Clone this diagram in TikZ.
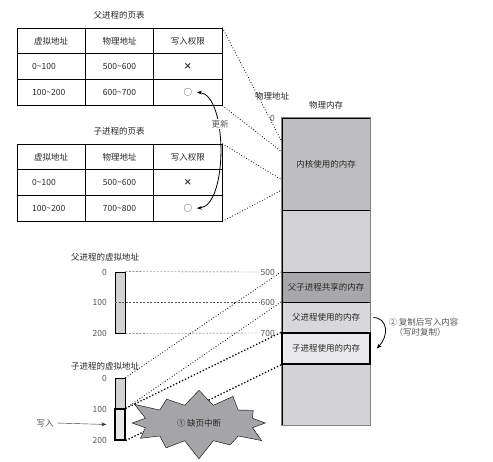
\documentclass[tikz,border=0pt]{standalone}
\usepackage{fontspec}
\setmainfont{Noto Sans CJK SC}
\usetikzlibrary{arrows.meta,shapes.symbols}
\definecolor{kernelgray}{RGB}{190,190,192}
\definecolor{freegray}{RGB}{211,211,213}
\definecolor{sharedgray}{RGB}{168,168,170}
\definecolor{usedgray}{RGB}{216,216,218}
\definecolor{copygray}{RGB}{233,233,235}
\definecolor{burstgray}{RGB}{165,165,167}
\definecolor{labelgray}{RGB}{85,85,85}
\begin{document}
\begin{tikzpicture}[x=1pt, y=-1pt, font=\fontsize{8.5}{10}\selectfont, text=black!85]
    \useasboundingbox (0,0) rectangle (493,461);
    % page tables
    \node (ptitle) at (119,15) {父进程的页表};
    \node (ctitle) at (119,131) {子进程的页表};
    \begin{scope}[every node/.style={rectangle, draw, line width=0.7pt, minimum width=68.3pt, minimum height=25.7pt, inner sep=0pt}]
      \node (p11) at (51.2,40.8) {虚拟地址};
      \node (p12) at (119.5,40.8) {物理地址};
      \node (p13) at (187.8,40.8) {写入权限};
      \node[text width=38pt, align=left] (p21) at (51.2,66.5) {0\textasciitilde100};
      \node (p22) at (119.5,66.5) {500\textasciitilde600};
      \node (p23) at (187.8,66.5) {\textbf{×}};
      \node[text width=38pt, align=left] (p31) at (51.2,92.2) {100\textasciitilde200};
      \node (p32) at (119.5,92.2) {600\textasciitilde700};
      \node (p33) at (187.8,92.2) {○};
      \node (c11) at (51.2,156.8) {虚拟地址};
      \node (c12) at (119.5,156.8) {物理地址};
      \node (c13) at (187.8,156.8) {写入权限};
      \node[text width=38pt, align=left] (c21) at (51.2,182.5) {0\textasciitilde100};
      \node (c22) at (119.5,182.5) {500\textasciitilde600};
      \node (c23) at (187.8,182.5) {\textbf{×}};
      \node[text width=38pt, align=left] (c31) at (51.2,208.2) {100\textasciitilde200};
      \node (c32) at (119.5,208.2) {700\textasciitilde800};
      \node (c33) at (187.8,208.2) {○};
    \end{scope}

    % physical memory
    \node (addr) at (272,96) {物理地址};
    \node (mem) at (326,105) {物理内存};
    \begin{scope}[every node/.style={rectangle, draw, line width=0.7pt, minimum width=88pt, inner sep=0pt}]
      \node[fill=kernelgray, minimum height=92pt] (kernel) at (326,164) {内核使用的内存};
      \node[fill=freegray, minimum height=62pt] (free1) at (326,241) {};
      \node[fill=sharedgray, minimum height=30pt] (shared) at (326,287) {父子进程共享的内存};
      \node[fill=usedgray, minimum height=31pt] (pused) at (326,317.5) {父进程使用的内存};
      \node[fill=freegray, minimum height=61pt] (free2) at (326,394.5) {};
      \node[fill=copygray, line width=1.4pt, minimum height=31pt] (cused) at (326,348.5) {子进程使用的内存};
    \end{scope}
    \draw[line width=1.5pt, gray] (kernel.north west) rectangle (free2.south east);
    \draw[line width=1.4pt] (cused.north west) rectangle (cused.south east);
    \begin{scope}[every node/.style={anchor=east, text=labelgray, inner sep=1pt}]
      \node (a0) at (276,118) {0};
      \node (a500) at (276,272) {500};
      \node (a600) at (276,302) {600};
      \node (a700) at (276,333) {700};
    \end{scope}

    % virtual address spaces
    \node (pvtitle) at (105,257) {父进程的虚拟地址};
    \node (cvtitle) at (105,366) {子进程的虚拟地址};
    \begin{scope}[every node/.style={rectangle, draw, line width=0.7pt, minimum width=10pt, inner sep=0pt}]
      \node[fill=freegray, minimum height=61pt] (pbar) at (120,302.5) {};
      \node[fill=freegray, minimum height=31pt] (ctop) at (120,393.5) {};
      \node[fill=copygray, line width=1.2pt, minimum height=31pt] (cbot) at (120,424.5) {};
    \end{scope}
    \begin{scope}[every node/.style={anchor=east, text=labelgray, inner sep=1pt}]
      \node (v0) at (108,272) {0};
      \node (v100) at (108,302) {100};
      \node (v200) at (108,333) {200};
      \node (w0) at (108,378) {0};
      \node (w100) at (108,409) {100};
      \node (w200) at (108,440) {200};
    \end{scope}
    \coordinate (p100) at (115,302);

    % page tables live in kernel memory
    \coordinate (k1) at (282,142);
    \coordinate (k2) at (282,152);
    \coordinate (k3) at (282,180);
    \coordinate (k4) at (282,190);
    \draw[dotted, thick] (p13.north east) -- (k1);
    \draw[dotted, thick] (p33.south east) -- (k2);
    \draw[dotted, thick] (c13.north east) -- (k3);
    \draw[dotted, thick] (c33.south east) -- (k4);

    % mappings
    \draw[dashed, dash pattern=on 2pt off 1.5pt, labelgray] (pbar.north east) -- (a500.west);
    \draw[dashed, dash pattern=on 2pt off 1.5pt, labelgray] (p100) -- (a600.west);
    \draw[dashed, dash pattern=on 2pt off 1.5pt, labelgray] (pbar.south east) -- (a700.west);
    \draw[dotted, thick] (ctop.north east) -- (shared.north west);
    \draw[dotted, thick] (cbot.north east) -- (pused.north west);
    \draw[dotted, line width=1.3pt] (cbot.north east) -- (cused.north west);
    \draw[dotted, line width=1.3pt] (cbot.south east) -- (cused.south west);

    % update arrow
    \draw[{Stealth[length=5pt]}-{Stealth[length=5pt]}, thick] ([xshift=9pt]p33.center)
        .. controls (228,95) and (228,206) .. ([xshift=9pt]c33.center);
    \node[fill=white, inner sep=1pt, text=labelgray] (update) at (220,124) {更新};

    % write and page fault
    \node[text=labelgray] (write) at (45,423) {写入};
    \draw[-{Stealth[length=5pt]}, black!80] (write.east) -- ([xshift=-8pt]cbot.west);
    \node[starburst, draw, fill=burstgray, starburst points=12, starburst point height=20pt,
        inner xsep=17pt, inner ysep=9pt] (fault) at (199,423) {① 缺页中断};

    % copy on write
    \draw[-{Stealth[length=5pt]}, thick] ([xshift=3pt]pused.east)
        .. controls (388,318) and (389,336) .. ([xshift=6pt]cused.east);
    \node[anchor=north west, align=left, text=labelgray] (cow) at (385,315)
        {② 复制后写入内容\\\hspace{6pt}（写时复制）};
\end{tikzpicture}
\end{document}
